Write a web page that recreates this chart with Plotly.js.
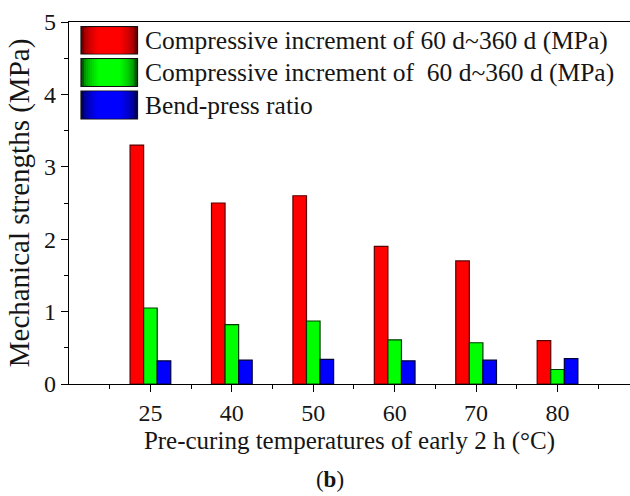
<!DOCTYPE html>
<html><head><meta charset="utf-8">
<script src="https://cdn.plot.ly/plotly-3.0.1.min.js"></script>
<style>html,body{margin:0;padding:0;background:#fff}</style>
</head><body>
<div id="chart" style="width:630px;height:496px"></div>
<script>
const categories = ['25', '40', '50', '60', '70', '80'];
const seriesNames = [
  'Compressive increment of 60 d~360 d (MPa)',
  'Compressive increment of\u00a0 60 d~360 d (MPa)',
  'Bend-press ratio'
];
const redValues = [3.3, 2.5, 2.6, 1.9, 1.7, 0.6];
const greenValues = [1.05, 0.82, 0.87, 0.61, 0.57, 0.2];
const blueValues = [0.32, 0.33, 0.34, 0.32, 0.33, 0.35];
const yTickLabels = ['0', '1', '2', '3', '4', '5'];

const fillColors = ['#ff0000', '#00ff00', '#0000ff'];
const edgeColors = ['#5a0000', '#003a00', '#00003a'];
const darkRGB = [[110, 0, 0], [0, 90, 0], [0, 0, 90]];
const brightRGB = [[255, 0, 0], [0, 255, 0], [0, 0, 255]];
const seriesValues = [redValues, greenValues, blueValues];

const W = 630, H = 496;
const M = {l: 69, r: 0, t: 22, b: 112};
const PW = W - M.l - M.r, PH = H - M.t - M.b;
const px = x => (x - M.l) / PW;
const py = y => (H - M.b - y) / PH;

const xIdx = categories.map((c, i) => i);

const traces = seriesValues.map((vals, k) => ({
  type: 'bar',
  name: seriesNames[k],
  x: xIdx,
  y: vals,
  marker: {color: fillColors[k], line: {color: edgeColors[k], width: 1.2}},
  showlegend: false,
  hoverinfo: 'y'
}));

const SERIF = 'Liberation Serif';
const TXT = '#151515';
const f = size => ({family: SERIF, size: size, color: TXT});
const shapes = [];
const annotations = [];
const rows = [[26.7, 54], [58.5, 86.5], [91, 119]];
const steps = 8;
rows.forEach((r, k) => {
  shapes.push({type: 'rect', xref: 'paper', yref: 'paper',
    x0: px(81), x1: px(137.5), y0: py(r[1]), y1: py(r[0]),
    fillcolor: 'rgb(' + darkRGB[k].join(',') + ')', line: {color: '#111', width: 1.2}});
  for (let s = 1; s <= steps; s++) {
    const t = s / steps;
    const c = darkRGB[k].map((d, j) => Math.round(d + (brightRGB[k][j] - d) * Math.sqrt(t)));
    const inset = 1 + s * 2;
    shapes.push({type: 'rect', xref: 'paper', yref: 'paper',
      x0: px(81 + inset), x1: px(137.5 - inset), y0: py(r[1] - 0.8), y1: py(r[0] + 0.8),
      fillcolor: 'rgb(' + c.join(',') + ')', line: {width: 0}});
  }
  annotations.push({xref: 'paper', yref: 'paper', x: px(143), y: py((r[0] + r[1]) / 2),
    xanchor: 'left', yanchor: 'middle', showarrow: false, text: seriesNames[k],
    font: f(25.5)});
});

const layout = {
  width: W, height: H,
  margin: M,
  paper_bgcolor: '#fff', plot_bgcolor: '#fff',
  barmode: 'group', bargap: 0.5, bargroupgap: 0,
  showlegend: false,
  title: {text: '(<b>b</b>)', x: 330 / W, xanchor: 'center', y: 1 - 479 / H, yanchor: 'middle',
    font: f(23)},
  xaxis: {
    range: [-1, 5.89], tickmode: 'array', tickvals: xIdx, ticktext: categories,
    showline: true, linecolor: '#000', linewidth: 1.2, mirror: true,
    ticks: 'outside', ticklen: 7, tickwidth: 1.2, tickcolor: '#000',
    minor: {tickmode: 'linear', tick0: -0.5, dtick: 1, ticks: 'outside', ticklen: 4, tickwidth: 1.2, tickcolor: '#000', showgrid: false},
    showgrid: false, zeroline: false,
    tickfont: f(24),
    title: {text: 'Pre-curing temperatures of early 2 h (°C)', standoff: 6, font: f(25)}
  },
  yaxis: {
    range: [0, 5], tickmode: 'array', tickvals: yTickLabels.map(Number), ticktext: yTickLabels,
    showline: true, linecolor: '#000', linewidth: 1.2,
    ticks: 'outside', ticklen: 7, tickwidth: 1.2, tickcolor: '#000',
    minor: {tickmode: 'linear', tick0: 0.5, dtick: 1, ticks: 'outside', ticklen: 4, tickwidth: 1.2, tickcolor: '#000', showgrid: false},
    showgrid: false, zeroline: false,
    tickfont: f(24),
    title: {text: 'Mechanical strengths (MPa)', standoff: 5, font: f(29)}
  },
  shapes: shapes,
  annotations: annotations
};

Plotly.newPlot('chart', traces, layout, {displayModeBar: false});
</script>
</body></html>
